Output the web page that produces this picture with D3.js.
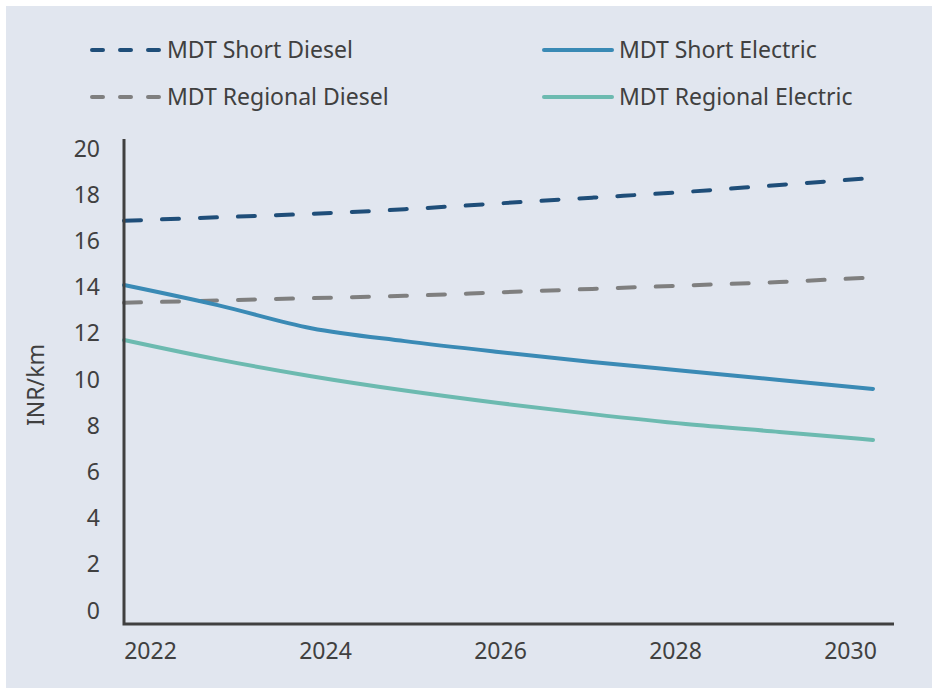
<!doctype html>
<html>
  <head>
    <script src="https://cdnjs.cloudflare.com/ajax/libs/d3/7.8.5/d3.min.js"></script>
    <style>
      body { margin: 0; background: #ffffff; }
      svg text { font-family: "Source Sans Pro", "Noto Sans", sans-serif; fill: #404040; }
    </style>
  </head>

  <body>
    <svg class="chart" width=932 height=688></svg>

    <script>
      // data (INR/km)
      var years = [2022, 2023, 2024, 2025, 2026, 2027, 2028, 2029, 2030];
      var shortDiesel     = [16.85, 17.0, 17.15, 17.35, 17.6, 17.85, 18.1, 18.4, 18.7];
      var regionalDiesel  = [13.3, 13.4, 13.5, 13.6, 13.75, 13.9, 14.05, 14.2, 14.4];
      var shortElectric   = [14.07, 13.2, 12.2, 11.64, 11.17, 10.74, 10.35, 9.96, 9.57];
      var regionalElectric = [11.69, 10.85, 10.12, 9.5, 8.96, 8.48, 8.05, 7.71, 7.36];
      var yTicks = [0, 2, 4, 6, 8, 10, 12, 14, 16, 18, 20];
      var xTicks = [2022, 2024, 2026, 2028, 2030];

      var series = [
        {name: "MDT Short Diesel",     values: shortDiesel,      color: "#1f4e79", dashed: true,  col: 0, row: 0},
        {name: "MDT Regional Diesel",  values: regionalDiesel,   color: "#7f7f7f", dashed: true,  col: 0, row: 1},
        {name: "MDT Short Electric",   values: shortElectric,    color: "#3a8ab5", dashed: false, col: 1, row: 0},
        {name: "MDT Regional Electric", values: regionalElectric, color: "#6cbab0", dashed: false, col: 1, row: 1}
      ];

      var svg = d3.select("svg");

      svg.append("rect")
        .attr("x", 6).attr("y", 6)
        .attr("width", 926).attr("height", 682)
        .attr("fill", "#e1e6ef");

      var plotLeft = 124, plotBottom = 624, plotTop = 139, plotRight = 894;

      var xData = d3.scaleLinear().domain([2022, 2030]).range([124, 873]);
      var xLab = d3.scaleLinear().domain([2022, 2030]).range([150, 850]);
      var y = d3.scaleLinear().domain([0, 20]).range([610, 148]);

      // lines
      var line = d3.line()
        .x(function(d, i){ return xData(years[i]); })
        .y(function(d){ return y(d); })
        .curve(d3.curveMonotoneX);

      svg.selectAll(".series")
        .data(series)
        .enter().append("path")
        .attr("d", function(d){ return line(d.values); })
        .attr("fill", "none")
        .attr("stroke", function(d){ return d.color; })
        .attr("stroke-width", 4)
        .attr("stroke-linecap", "round")
        .attr("stroke-dasharray", function(d){ return d.dashed ? "17,21" : null; });

      // y ticks
      var yAxis = svg.append("g")
        .attr("transform", "translate(100,0)")
        .call(d3.axisLeft(y).tickValues(yTicks).tickSize(0).tickPadding(0));
      yAxis.select(".domain").remove();
      yAxis.selectAll("text")
        .attr("fill", "#404040")
        .style("font-size", "23px")
        .attr("dy", "0.35em");

      // x ticks
      var xAxis = svg.append("g")
        .attr("transform", "translate(0,643)")
        .call(d3.axisBottom(xLab).tickValues(xTicks).tickFormat(d3.format("d")).tickSize(0).tickPadding(0));
      xAxis.select(".domain").remove();
      xAxis.selectAll("text")
        .attr("fill", "#404040")
        .style("font-size", "23px")
        .attr("dy", "0.71em");

      // axis lines
      svg.append("path")
        .attr("d", "M" + plotLeft + "," + plotTop + "V" + plotBottom + "H" + plotRight)
        .attr("fill", "none")
        .attr("stroke", "#404040")
        .attr("stroke-width", 3);

      svg.append("text")
        .attr("transform", "translate(44,385) rotate(-90)")
        .attr("text-anchor", "middle")
        .style("font-size", "23px")
        .text("INR/km");

      // legend
      var colX = [90, 542], rowY = [50, 97];
      var lg = svg.selectAll(".legend")
        .data(series)
        .enter().append("g")
        .attr("transform", function(d){ return "translate(" + colX[d.col] + "," + rowY[d.row] + ")"; });
      lg.append("line")
        .attr("x1", 2).attr("x2", 70)
        .attr("stroke", function(d){ return d.color; })
        .attr("stroke-width", 4)
        .attr("stroke-linecap", "round")
        .attr("stroke-dasharray", function(d){ return d.dashed ? "11,17" : null; });
      lg.append("text")
        .attr("x", 77)
        .attr("dy", "0.35em")
        .style("font-size", "23px")
        .text(function(d){ return d.name; });
    </script>
  </body>
</html>
